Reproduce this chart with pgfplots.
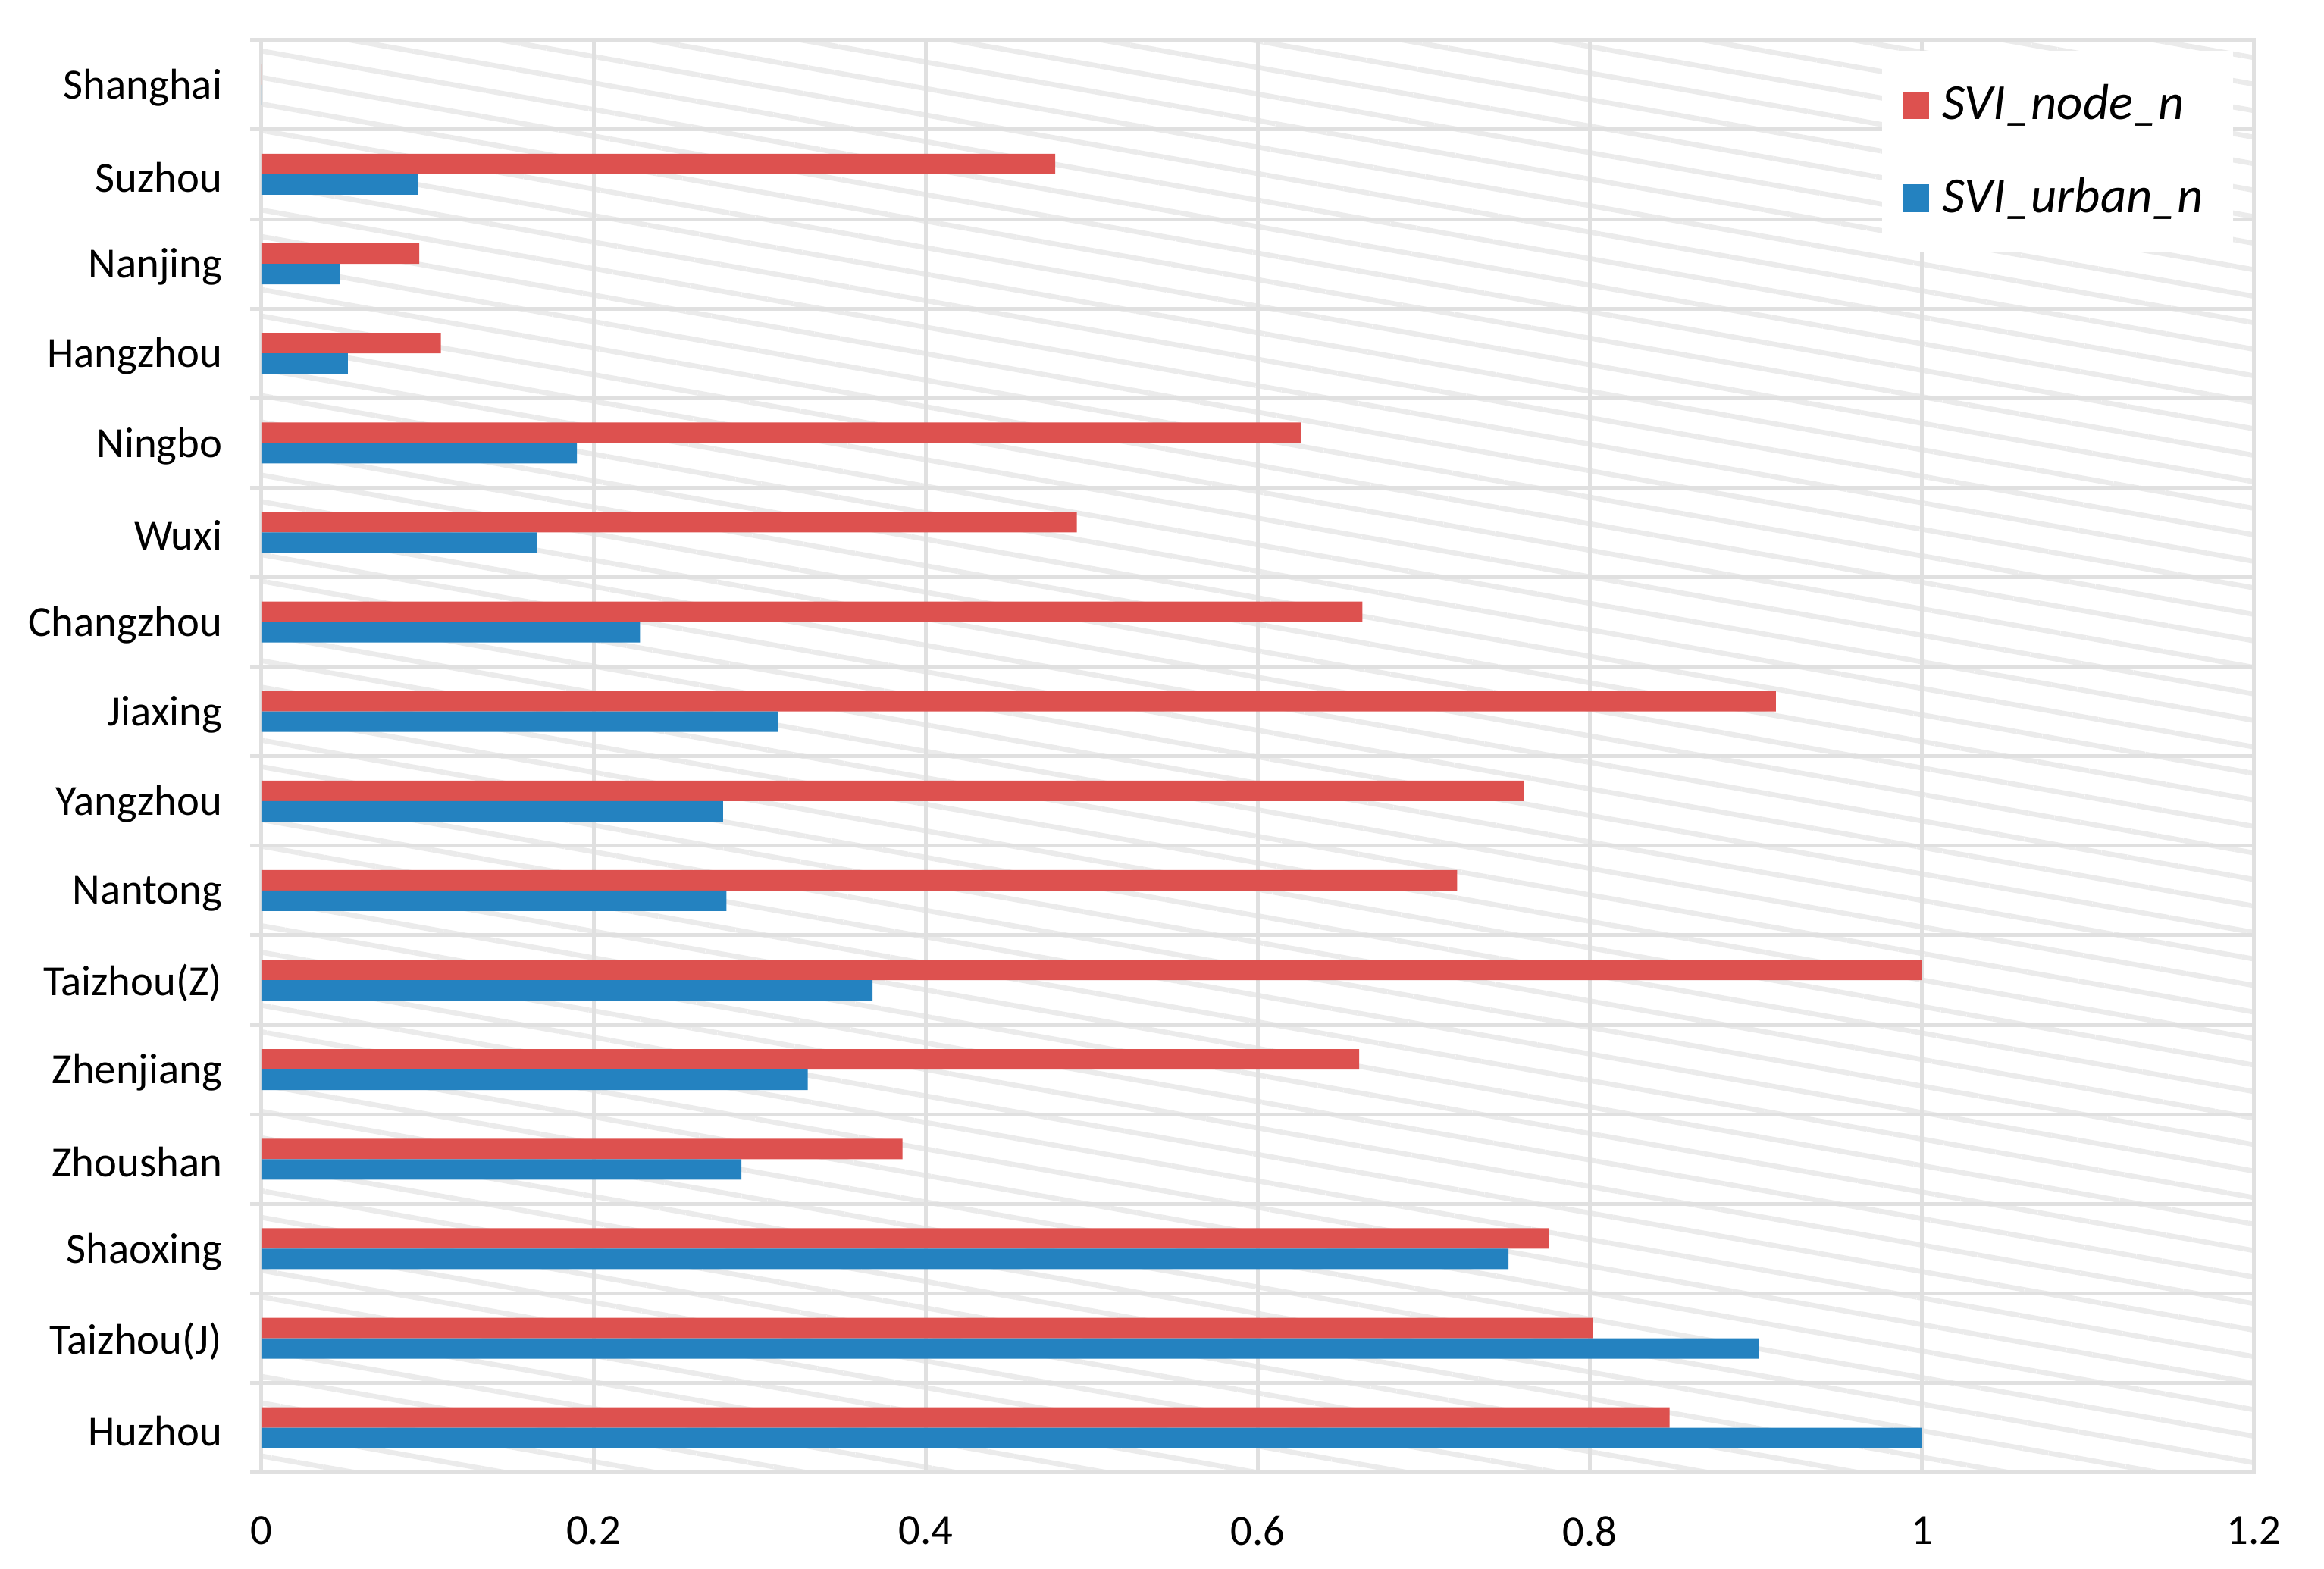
\documentclass[border=0pt]{standalone}
\usepackage{fontspec}
\setmainfont{Carlito}
\usepackage{pgfplots}
\pgfplotsset{compat=1.18}
\usetikzlibrary{patterns.meta}
\definecolor{nodered}{RGB}{221,81,79}
\definecolor{urbanblue}{RGB}{36,130,192}
\definecolor{gridgray}{RGB}{224,224,224}
\begin{document}
\begin{tikzpicture}
\begin{axis}[
  xbar,
  scale only axis,
  width=473.2pt, height=340.2pt,
  xmin=0, xmax=1.2, ymin=-0.5, ymax=15.5,
  xtick={0,0.2,0.4,0.6,0.8,1,1.2},
  xticklabels={0,0.2,0.4,0.6,0.8,1,1.2},
  ytick={0,1,2,3,4,5,6,7,8,9,10,11,12,13,14,15},
  yticklabels={Huzhou,Taizhou(J),Shaoxing,Zhoushan,Zhenjiang,Taizhou(Z),Nantong,Yangzhou,Jiaxing,Changzhou,Wuxi,Ningbo,Hangzhou,Nanjing,Suzhou,Shanghai},
  minor ytick={-0.5,0.5,1.5,2.5,3.5,4.5,5.5,6.5,7.5,8.5,9.5,10.5,11.5,12.5,13.5,14.5,15.5},
  xmajorgrids, yminorgrids,
  grid style={gridgray, line width=0.9pt},
  minor grid style={gridgray, line width=0.9pt},
  axis line style={gridgray, line width=0.9pt},
  major tick length=0pt,
  minor tick length=2.7pt,
  tick align=outside,
  minor tick style={gridgray, line width=0.9pt},
  ytick pos=left, xtick pos=bottom,
  tick label style={font=\fontsize{10.2}{12}\selectfont},
  /pgf/number format/assume math mode=true,
  xticklabel style={yshift=-6.9pt},
  yticklabel style={xshift=-5.8pt, yshift=-0.7pt},
  bar width=4.86pt,
  axis background/.style={pattern={Lines[angle=-10,distance=6.2pt,line width=1.2pt]}, pattern color=black!8},
  legend style={draw=none, fill=white, font=\itshape\fontsize{12}{14}\selectfont,
    at={(1,1)}, anchor=north east, xshift=-4.8pt, yshift=-2.4pt,
    row sep=8.2pt, inner xsep=5pt, inner ysep=6pt},
  legend cell align=left,
  legend image code/.code={\fill[#1] (0pt,-3.3pt) rectangle (6.2pt,3.3pt); \path (7.4pt,0pt);},
]
\addplot[fill=nodered, draw=none, bar shift=2.43pt] coordinates {
(0.848,0) (0.802,1) (0.775,2) (0.386,3) (0.661,4) (1.0,5) (0.720,6) (0.760,7)
(0.912,8) (0.663,9) (0.491,10) (0.626,11) (0.108,12) (0.095,13) (0.478,14) (0,15)};
\addplot[fill=urbanblue, draw=none, bar shift=-2.43pt] coordinates {
(1.0,0) (0.902,1) (0.751,2) (0.289,3) (0.329,4) (0.368,5) (0.280,6) (0.278,7)
(0.311,8) (0.228,9) (0.166,10) (0.190,11) (0.052,12) (0.047,13) (0.094,14) (0,15)};
\legend{SVI\_node\_n, SVI\_urban\_n}
\end{axis}
\path ([xshift=-62.1pt,yshift=-22.9pt]current axis.south west) rectangle ([xshift=16.6pt,yshift=9.5pt]current axis.north east);
\end{tikzpicture}
\end{document}
